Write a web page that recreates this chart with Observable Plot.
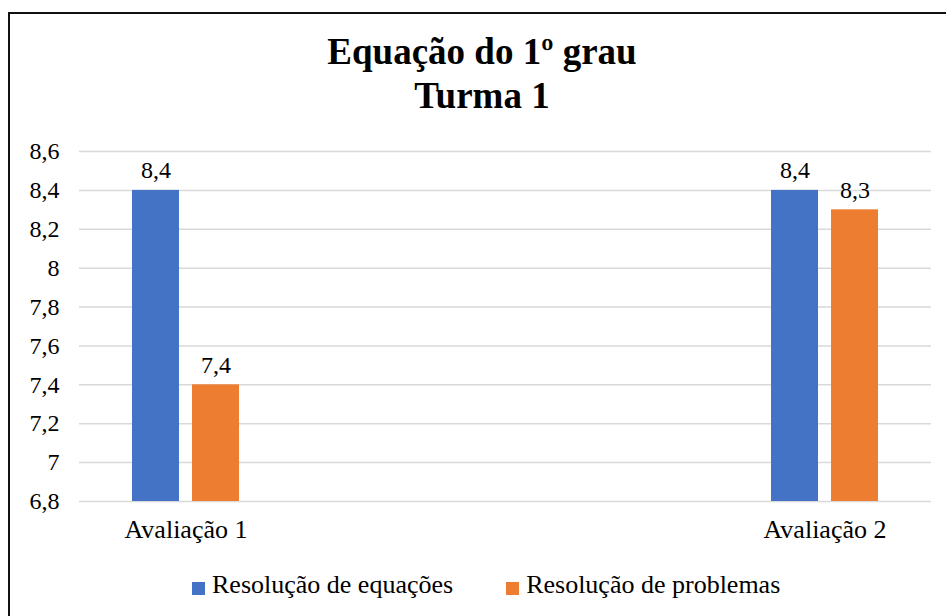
<!DOCTYPE html>
<html>
<head>
<meta charset="utf-8">
<script src="https://cdn.jsdelivr.net/npm/d3@7"></script>
<script src="https://cdn.jsdelivr.net/npm/@observablehq/plot@0.6"></script>
<style>
  html, body { margin: 0; padding: 0; background: #fff; }
  body { width: 946px; height: 616px; position: relative; overflow: hidden; font-family: "Liberation Serif", "Times New Roman", serif; }
  #frame { position: absolute; left: 8px; top: 12px; width: 960px; height: 640px; border-left: 2px solid #111; border-top: 2px solid #111; box-sizing: border-box; }
  #title { position: absolute; top: 30px; left: 0; width: 964px; text-align: center; font-weight: bold; font-size: 37px; line-height: 44px; color: #000; }
  #chart { position: absolute; left: 0; top: 120px; }
  #legend { position: absolute; top: 570px; left: 192px; display: flex; align-items: center; font-size: 26px; line-height: 30px; color: #000; white-space: nowrap; }
  .item { display: flex; align-items: center; }
  .sw { width: 13px; height: 13px; margin-right: 7px; margin-top: 6px; }
</style>
</head>
<body>
<div id="frame"></div>
<div id="title">Equação do 1º grau<br>Turma 1</div>
<div id="chart"></div>
<div id="legend"></div>
<script>
// ---- data ----
const categories = ["Avaliação 1", "Avaliação 2"];
const categorySlots = ["Avaliação 1", "vazio 1", "vazio 2", "Avaliação 2"];
const seriesNames = ["Resolução de equações", "Resolução de problemas"];
const equacoes = [8.4, 8.4];
const problemas = [7.4, 8.3];
const yTicks = [6.8, 7, 7.2, 7.4, 7.6, 7.8, 8, 8.2, 8.4, 8.6];
const colors = ["#4472C4", "#ED7D31"];

const fmt = d => String(Math.round(d * 10) / 10).replace(".", ",");
const fontStack = "'Liberation Serif', 'Times New Roman', serif";

const rows = [];
categories.forEach((c, i) => {
  rows.push({cat: c, series: seriesNames[0], value: equacoes[i]});
  rows.push({cat: c, series: seriesNames[1], value: problemas[i]});
});
const gridRows = categorySlots.flatMap(c => yTicks.map(t => ({cat: c, y: t})));

const plot = Plot.plot({
  width: 946,
  height: 440,
  marginLeft: 77,
  marginRight: 14,
  marginTop: 31,
  marginBottom: 59,
  style: {fontFamily: fontStack, fontSize: "24px", color: "#000", background: "transparent", overflow: "visible"},
  fx: {domain: categorySlots, padding: 0, label: null},
  x: {domain: seriesNames, paddingInner: 0.213, paddingOuter: 0.859, axis: null},
  y: {domain: [yTicks[0], yTicks[yTicks.length - 1]], label: null},
  color: {domain: seriesNames, range: colors},
  marks: [
    Plot.ruleY(gridRows, {fx: "cat", y: "y", stroke: "#d9d9d9", strokeWidth: 1.5}),
    Plot.barY(rows, {fx: "cat", x: "series", y1: yTicks[0], y2: "value", fill: "series"}),
    Plot.text(rows, {fx: "cat", x: "series", y: "value", text: d => fmt(d.value), lineAnchor: "bottom", dy: -12, fontSize: 24, fill: "#000"}),
    Plot.axisY({ticks: yTicks, tickFormat: fmt, tickSize: 0, tickPadding: 20, fontSize: 24, label: null}),
    Plot.axisFx({anchor: "bottom", tickFormat: d => categories.includes(d) ? d : "", tickSize: 0, tickPadding: 18, fontSize: 26, label: null})
  ]
});
document.getElementById("chart").appendChild(plot);

const legend = document.getElementById("legend");
seriesNames.forEach((s, i) => {
  const item = document.createElement("div");
  item.className = "item";
  if (i > 0) item.style.marginLeft = "53px";
  const sw = document.createElement("div");
  sw.className = "sw";
  sw.style.background = colors[i];
  const t = document.createElement("span");
  t.textContent = s;
  item.appendChild(sw);
  item.appendChild(t);
  legend.appendChild(item);
});
</script>
</body>
</html>
